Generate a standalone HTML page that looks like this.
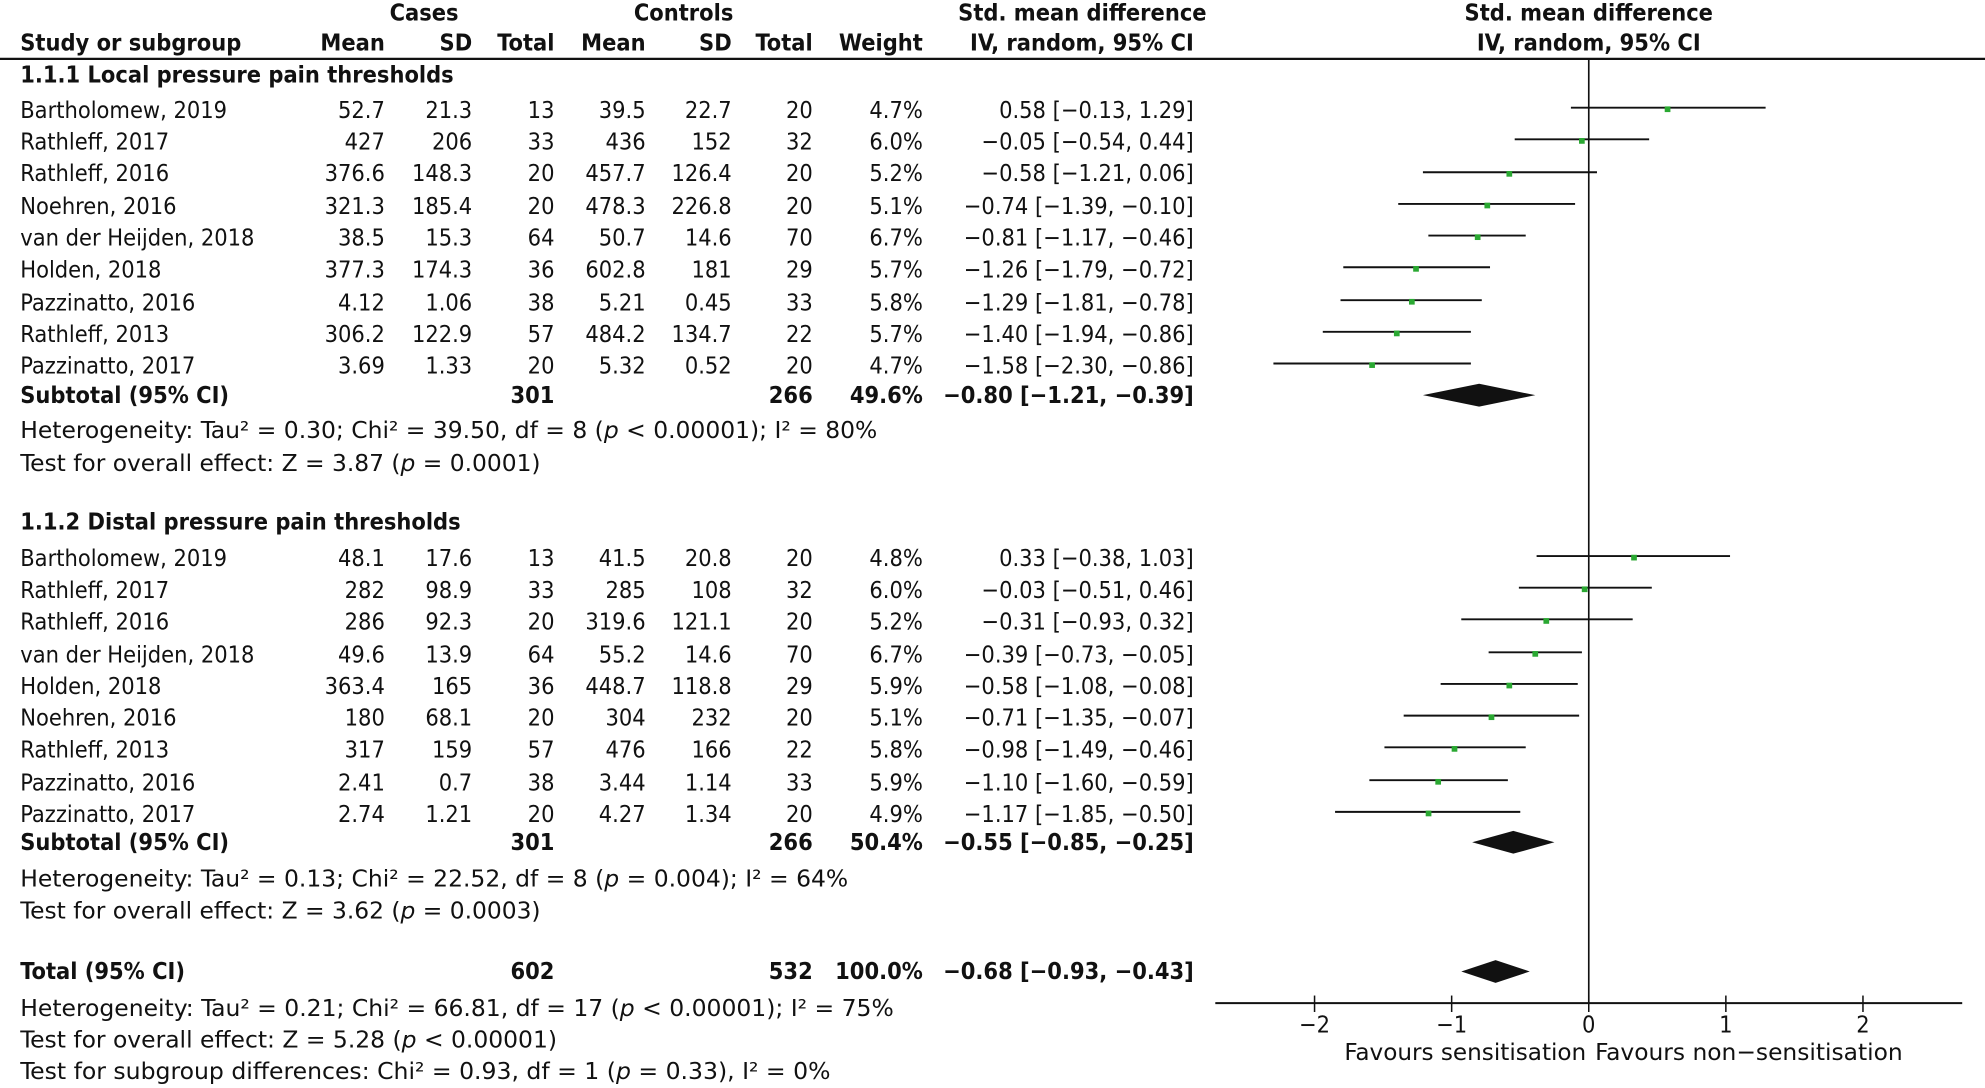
<!DOCTYPE html>
<html><head><meta charset="utf-8"><style>
html,body{margin:0;padding:0;background:#fff;}
svg{display:block;}
text{font-family:"DejaVu Sans Condensed","Liberation Sans Narrow","Liberation Sans",sans-serif;font-size:18.5px;fill:#111;}
.b{font-weight:bold;}
.r{text-anchor:end;}
.c{text-anchor:middle;}
</style></head><body>
<svg width="1985" height="1088" viewBox="0 0 1568 859" preserveAspectRatio="none" xmlns="http://www.w3.org/2000/svg">
<text class="b c" x="335" y="16">Cases</text>
<text class="b c" x="540" y="16">Controls</text>
<text class="b c" x="855" y="16">Std. mean difference</text>
<text class="b c" x="1255" y="16">Std. mean  difference</text>
<text class="b" x="16" y="40">Study or subgroup</text>
<text class="b r" x="304" y="40">Mean</text>
<text class="b r" x="373" y="40">SD</text>
<text class="b r" x="438" y="40">Total</text>
<text class="b r" x="510" y="40">Mean</text>
<text class="b r" x="578" y="40">SD</text>
<text class="b r" x="642" y="40">Total</text>
<text class="b r" x="729" y="40">Weight</text>
<text class="b r" x="943" y="40">IV, random, 95% CI</text>
<text class="b c" x="1255" y="40">IV, random, 95% CI</text>
<line x1="0" y1="46.5" x2="1568" y2="46.5" stroke="#111" stroke-width="1.8"/>
<line x1="1255" y1="46" x2="1255" y2="792" stroke="#111" stroke-width="1.3"/>

<text class="b" x="16" y="65">1.1.1 Local pressure pain thresholds</text>
<text class="b" x="16" y="418">1.1.2 Distal pressure pain thresholds</text>

<line x1="960" y1="792" x2="1550" y2="792" stroke="#111" stroke-width="1.6"/>
<g stroke="#111" stroke-width="1.2">
<line x1="1038.4" y1="786" x2="1038.4" y2="799"/>
<line x1="1146.7" y1="786" x2="1146.7" y2="799"/>
<line x1="1255" y1="786" x2="1255" y2="799"/>
<line x1="1363.3" y1="786" x2="1363.3" y2="799"/>
<line x1="1471.6" y1="786" x2="1471.6" y2="799"/>
</g>
<text class="c" x="1038.4" y="815">−2</text>
<text class="c" x="1146.7" y="815">−1</text>
<text class="c" x="1255" y="815">0</text>
<text class="c" x="1363.3" y="815">1</text>
<text class="c" x="1471.6" y="815">2</text>
<text x="1062" y="837" textLength="191" lengthAdjust="spacingAndGlyphs">Favours sensitisation</text>
<text x="1260" y="837" textLength="243" lengthAdjust="spacingAndGlyphs">Favours non−sensitisation</text>

<g>
<text x="16" y="93">Bartholomew, 2019</text><text class="r" x="304" y="93">52.7</text><text class="r" x="373" y="93">21.3</text><text class="r" x="438" y="93">13</text><text class="r" x="510" y="93">39.5</text><text class="r" x="578" y="93">22.7</text><text class="r" x="642" y="93">20</text><text class="r" x="729" y="93">4.7%</text><text class="r" x="943" y="93">0.58 [−0.13, 1.29]</text>
<text x="16" y="118">Rathleff, 2017</text><text class="r" x="304" y="118">427</text><text class="r" x="373" y="118">206</text><text class="r" x="438" y="118">33</text><text class="r" x="510" y="118">436</text><text class="r" x="578" y="118">152</text><text class="r" x="642" y="118">32</text><text class="r" x="729" y="118">6.0%</text><text class="r" x="943" y="118">−0.05 [−0.54, 0.44]</text>
<text x="16" y="143">Rathleff, 2016</text><text class="r" x="304" y="143">376.6</text><text class="r" x="373" y="143">148.3</text><text class="r" x="438" y="143">20</text><text class="r" x="510" y="143">457.7</text><text class="r" x="578" y="143">126.4</text><text class="r" x="642" y="143">20</text><text class="r" x="729" y="143">5.2%</text><text class="r" x="943" y="143">−0.58 [−1.21, 0.06]</text>
<text x="16" y="169">Noehren, 2016</text><text class="r" x="304" y="169">321.3</text><text class="r" x="373" y="169">185.4</text><text class="r" x="438" y="169">20</text><text class="r" x="510" y="169">478.3</text><text class="r" x="578" y="169">226.8</text><text class="r" x="642" y="169">20</text><text class="r" x="729" y="169">5.1%</text><text class="r" x="943" y="169">−0.74 [−1.39, −0.10]</text>
<text x="16" y="194">van der Heijden, 2018</text><text class="r" x="304" y="194">38.5</text><text class="r" x="373" y="194">15.3</text><text class="r" x="438" y="194">64</text><text class="r" x="510" y="194">50.7</text><text class="r" x="578" y="194">14.6</text><text class="r" x="642" y="194">70</text><text class="r" x="729" y="194">6.7%</text><text class="r" x="943" y="194">−0.81 [−1.17, −0.46]</text>
<text x="16" y="219">Holden, 2018</text><text class="r" x="304" y="219">377.3</text><text class="r" x="373" y="219">174.3</text><text class="r" x="438" y="219">36</text><text class="r" x="510" y="219">602.8</text><text class="r" x="578" y="219">181</text><text class="r" x="642" y="219">29</text><text class="r" x="729" y="219">5.7%</text><text class="r" x="943" y="219">−1.26 [−1.79, −0.72]</text>
<text x="16" y="245">Pazzinatto, 2016</text><text class="r" x="304" y="245">4.12</text><text class="r" x="373" y="245">1.06</text><text class="r" x="438" y="245">38</text><text class="r" x="510" y="245">5.21</text><text class="r" x="578" y="245">0.45</text><text class="r" x="642" y="245">33</text><text class="r" x="729" y="245">5.8%</text><text class="r" x="943" y="245">−1.29 [−1.81, −0.78]</text>
<text x="16" y="270">Rathleff, 2013</text><text class="r" x="304" y="270">306.2</text><text class="r" x="373" y="270">122.9</text><text class="r" x="438" y="270">57</text><text class="r" x="510" y="270">484.2</text><text class="r" x="578" y="270">134.7</text><text class="r" x="642" y="270">22</text><text class="r" x="729" y="270">5.7%</text><text class="r" x="943" y="270">−1.40 [−1.94, −0.86]</text>
<text x="16" y="295">Pazzinatto, 2017</text><text class="r" x="304" y="295">3.69</text><text class="r" x="373" y="295">1.33</text><text class="r" x="438" y="295">20</text><text class="r" x="510" y="295">5.32</text><text class="r" x="578" y="295">0.52</text><text class="r" x="642" y="295">20</text><text class="r" x="729" y="295">4.7%</text><text class="r" x="943" y="295">−1.58 [−2.30, −0.86]</text>
<text class="b" x="16" y="318">Subtotal (95% CI)</text><text class="b r" x="438" y="318">301</text><text class="b r" x="642" y="318">266</text><text class="b r" x="729" y="318">49.6%</text><text class="b r" x="943" y="318">−0.80 [−1.21, −0.39]</text>
<text x="16" y="346" textLength="677" lengthAdjust="spacingAndGlyphs">Heterogeneity: Tau² = 0.30; Chi² = 39.50, df = 8 (<tspan font-style="italic">p</tspan> &lt; 0.00001); I² = 80%</text>
<text x="16" y="372" textLength="411" lengthAdjust="spacingAndGlyphs">Test for overall effect: Z = 3.87 (<tspan font-style="italic">p</tspan> = 0.0001)</text>
</g>

<g>
<text x="16" y="447">Bartholomew, 2019</text><text class="r" x="304" y="447">48.1</text><text class="r" x="373" y="447">17.6</text><text class="r" x="438" y="447">13</text><text class="r" x="510" y="447">41.5</text><text class="r" x="578" y="447">20.8</text><text class="r" x="642" y="447">20</text><text class="r" x="729" y="447">4.8%</text><text class="r" x="943" y="447">0.33 [−0.38, 1.03]</text>
<text x="16" y="472">Rathleff, 2017</text><text class="r" x="304" y="472">282</text><text class="r" x="373" y="472">98.9</text><text class="r" x="438" y="472">33</text><text class="r" x="510" y="472">285</text><text class="r" x="578" y="472">108</text><text class="r" x="642" y="472">32</text><text class="r" x="729" y="472">6.0%</text><text class="r" x="943" y="472">−0.03 [−0.51, 0.46]</text>
<text x="16" y="497">Rathleff, 2016</text><text class="r" x="304" y="497">286</text><text class="r" x="373" y="497">92.3</text><text class="r" x="438" y="497">20</text><text class="r" x="510" y="497">319.6</text><text class="r" x="578" y="497">121.1</text><text class="r" x="642" y="497">20</text><text class="r" x="729" y="497">5.2%</text><text class="r" x="943" y="497">−0.31 [−0.93, 0.32]</text>
<text x="16" y="523">van der Heijden, 2018</text><text class="r" x="304" y="523">49.6</text><text class="r" x="373" y="523">13.9</text><text class="r" x="438" y="523">64</text><text class="r" x="510" y="523">55.2</text><text class="r" x="578" y="523">14.6</text><text class="r" x="642" y="523">70</text><text class="r" x="729" y="523">6.7%</text><text class="r" x="943" y="523">−0.39 [−0.73, −0.05]</text>
<text x="16" y="548">Holden, 2018</text><text class="r" x="304" y="548">363.4</text><text class="r" x="373" y="548">165</text><text class="r" x="438" y="548">36</text><text class="r" x="510" y="548">448.7</text><text class="r" x="578" y="548">118.8</text><text class="r" x="642" y="548">29</text><text class="r" x="729" y="548">5.9%</text><text class="r" x="943" y="548">−0.58 [−1.08, −0.08]</text>
<text x="16" y="573">Noehren, 2016</text><text class="r" x="304" y="573">180</text><text class="r" x="373" y="573">68.1</text><text class="r" x="438" y="573">20</text><text class="r" x="510" y="573">304</text><text class="r" x="578" y="573">232</text><text class="r" x="642" y="573">20</text><text class="r" x="729" y="573">5.1%</text><text class="r" x="943" y="573">−0.71 [−1.35, −0.07]</text>
<text x="16" y="598">Rathleff, 2013</text><text class="r" x="304" y="598">317</text><text class="r" x="373" y="598">159</text><text class="r" x="438" y="598">57</text><text class="r" x="510" y="598">476</text><text class="r" x="578" y="598">166</text><text class="r" x="642" y="598">22</text><text class="r" x="729" y="598">5.8%</text><text class="r" x="943" y="598">−0.98 [−1.49, −0.46]</text>
<text x="16" y="624">Pazzinatto, 2016</text><text class="r" x="304" y="624">2.41</text><text class="r" x="373" y="624">0.7</text><text class="r" x="438" y="624">38</text><text class="r" x="510" y="624">3.44</text><text class="r" x="578" y="624">1.14</text><text class="r" x="642" y="624">33</text><text class="r" x="729" y="624">5.9%</text><text class="r" x="943" y="624">−1.10 [−1.60, −0.59]</text>
<text x="16" y="649">Pazzinatto, 2017</text><text class="r" x="304" y="649">2.74</text><text class="r" x="373" y="649">1.21</text><text class="r" x="438" y="649">20</text><text class="r" x="510" y="649">4.27</text><text class="r" x="578" y="649">1.34</text><text class="r" x="642" y="649">20</text><text class="r" x="729" y="649">4.9%</text><text class="r" x="943" y="649">−1.17 [−1.85, −0.50]</text>
<text class="b" x="16" y="671">Subtotal (95% CI)</text><text class="b r" x="438" y="671">301</text><text class="b r" x="642" y="671">266</text><text class="b r" x="729" y="671">50.4%</text><text class="b r" x="943" y="671">−0.55 [−0.85, −0.25]</text>
<text x="16" y="700" textLength="654" lengthAdjust="spacingAndGlyphs">Heterogeneity: Tau² = 0.13; Chi² = 22.52, df = 8 (<tspan font-style="italic">p</tspan> = 0.004); I² = 64%</text>
<text x="16" y="725" textLength="411" lengthAdjust="spacingAndGlyphs">Test for overall effect: Z = 3.62 (<tspan font-style="italic">p</tspan> = 0.0003)</text>
<text class="b" x="16" y="773">Total (95% CI)</text><text class="b r" x="438" y="773">602</text><text class="b r" x="642" y="773">532</text><text class="b r" x="729" y="773">100.0%</text><text class="b r" x="943" y="773">−0.68 [−0.93, −0.43]</text>
<text x="16" y="802" textLength="690" lengthAdjust="spacingAndGlyphs">Heterogeneity: Tau² = 0.21; Chi² = 66.81, df = 17 (<tspan font-style="italic">p</tspan> &lt; 0.00001); I² = 75%</text>
<text x="16" y="827" textLength="424" lengthAdjust="spacingAndGlyphs">Test for overall effect: Z = 5.28 (<tspan font-style="italic">p</tspan> &lt; 0.00001)</text>
<text x="16" y="852" textLength="640" lengthAdjust="spacingAndGlyphs">Test for subgroup differences: Chi² = 0.93, df = 1 (<tspan font-style="italic">p</tspan> = 0.33), I² = 0%</text>
</g>

<g stroke="#111" stroke-width="1.5">
<line x1="1240.9" y1="85" x2="1394.7" y2="85"/>
<line x1="1196.5" y1="110" x2="1302.7" y2="110"/>
<line x1="1124" y1="136" x2="1261.5" y2="136"/>
<line x1="1104.5" y1="161" x2="1244.2" y2="161"/>
<line x1="1128.3" y1="186" x2="1205.2" y2="186"/>
<line x1="1061.1" y1="211" x2="1177" y2="211"/>
<line x1="1058.9" y1="237" x2="1170.5" y2="237"/>
<line x1="1044.9" y1="262" x2="1161.9" y2="262"/>
<line x1="1005.9" y1="287" x2="1161.9" y2="287"/>
<line x1="1213.8" y1="439" x2="1366.6" y2="439"/>
<line x1="1199.8" y1="464" x2="1304.8" y2="464"/>
<line x1="1154.3" y1="489" x2="1289.7" y2="489"/>
<line x1="1175.9" y1="515" x2="1249.6" y2="515"/>
<line x1="1138" y1="540" x2="1246.3" y2="540"/>
<line x1="1108.8" y1="565" x2="1247.4" y2="565"/>
<line x1="1093.6" y1="590" x2="1205.2" y2="590"/>
<line x1="1081.7" y1="616" x2="1191.1" y2="616"/>
<line x1="1054.6" y1="641" x2="1200.9" y2="641"/>
</g>
<g fill="#2aa832">
<rect x="1315" y="84" width="4.5" height="4.5"/>
<rect x="1247.3" y="109" width="4.5" height="4.5"/>
<rect x="1190" y="135" width="4.5" height="4.5"/>
<rect x="1172.6" y="160" width="4.5" height="4.5"/>
<rect x="1165" y="185" width="4.5" height="4.5"/>
<rect x="1116.3" y="210" width="4.5" height="4.5"/>
<rect x="1113" y="236" width="4.5" height="4.5"/>
<rect x="1101.1" y="261" width="4.5" height="4.5"/>
<rect x="1081.6" y="286" width="4.5" height="4.5"/>
<rect x="1288.5" y="438" width="4.5" height="4.5"/>
<rect x="1249.5" y="463" width="4.5" height="4.5"/>
<rect x="1219.2" y="488" width="4.5" height="4.5"/>
<rect x="1210.5" y="514" width="4.5" height="4.5"/>
<rect x="1190" y="539" width="4.5" height="4.5"/>
<rect x="1175.9" y="564" width="4.5" height="4.5"/>
<rect x="1146.7" y="589" width="4.5" height="4.5"/>
<rect x="1133.8" y="615" width="4.5" height="4.5"/>
<rect x="1126.2" y="640" width="4.5" height="4.5"/>
</g>
<g fill="#111">
<polygon points="1124,312 1168.4,303 1212.8,312 1168.4,321"/>
<polygon points="1162.9,665 1195.4,656 1227.9,665 1195.4,674"/>
<polygon points="1154.3,767 1181.4,758 1208.4,767 1181.4,776"/>
</g>
</svg>
</body></html>
